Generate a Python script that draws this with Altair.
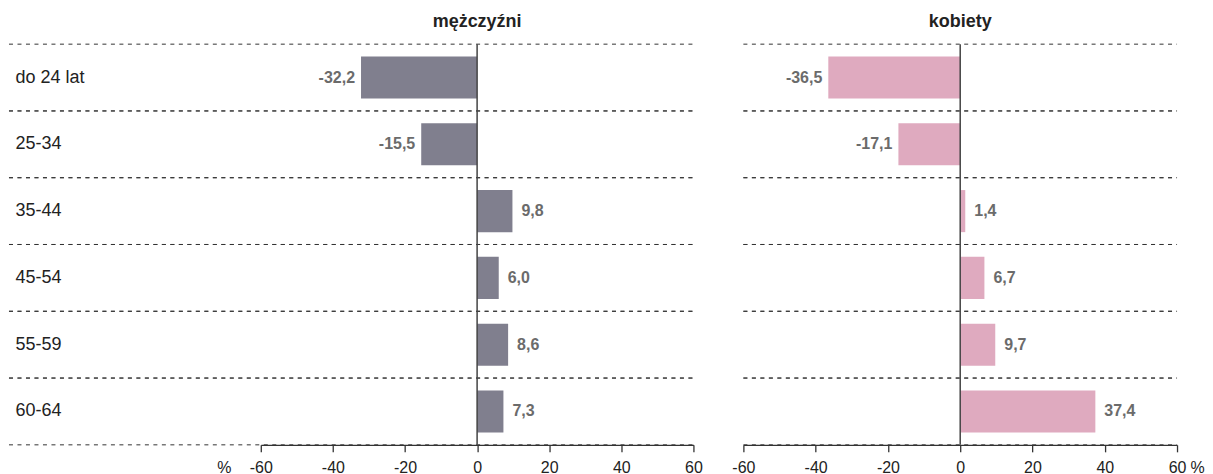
import altair as alt
import pandas as pd

groups = ["do 24 lat", "25-34", "35-44", "45-54", "55-59", "60-64"]
men = [-32.2, -15.5, 9.8, 6.0, 8.6, 7.3]
women = [-36.5, -17.1, 1.4, 6.7, 9.7, 37.4]
x_ticks = [-60, -40, -20, 0, 20, 40, 60]

MEN_COLOR = "#807f8e"
WOMEN_COLOR = "#dfaabf"
LABEL_COLOR = "#6b6b6b"
TEXT_COLOR = "#222222"
LINE_COLOR = "#333333"
FONT = "Liberation Sans"
NARROW = "Liberation Sans Narrow, Arial Narrow, Liberation Sans"

H = 401


def panel(values, color, title, left, width):
    df = pd.DataFrame({
        "grupa": groups,
        "v": values,
        "lab": [f"{v:.1f}".replace(".", ",") for v in values],
    })
    base = alt.Chart(df)
    xscale = alt.Scale(domain=[-60, 60], nice=False, zero=False)
    yscale = alt.Scale(domain=groups, paddingInner=0, paddingOuter=0)
    if left:
        yaxis = alt.Axis(title=None, ticks=False, domain=False, grid=False,
                         labelAlign="left", labelPadding=246, labelFontSize=18,
                         labelColor=TEXT_COLOR, labelFont=FONT, labelBaseline="middle")
    else:
        yaxis = None
    xaxis = alt.Axis(values=x_ticks, title="%", labelExpr="'' + datum.value",
                     labelFlush=False, labelOverlap=False,
                     labelFontSize=16, labelColor=TEXT_COLOR, labelFont=FONT,
                     tickSize=7, tickColor=LINE_COLOR, tickWidth=1.3,
                     domainColor=LINE_COLOR, domainWidth=1.3, labelPadding=8,
                     grid=False, titleFontSize=16, titleFontWeight="normal",
                     titleColor=TEXT_COLOR, titleFont=FONT,
                     titleX=-37 if left else width + 20, titleY=28,
                     titleAlign="center", titleBaseline="alphabetic", titleAngle=0)
    X = alt.X("v:Q", scale=xscale, axis=xaxis)
    Y = alt.Y("grupa:N", scale=yscale, axis=yaxis, sort=groups)

    gx = alt.value(-252) if left else alt.value(0)
    grid_top = base.mark_rule(color=LINE_COLOR, strokeDash=[4, 4.5], strokeWidth=1).encode(
        y=alt.Y("grupa:N", scale=yscale, axis=yaxis, sort=groups, bandPosition=0),
        x=gx, x2=alt.value(width))
    grid_bot = base.mark_rule(color=LINE_COLOR, strokeDash=[4, 4.5], strokeWidth=1).encode(
        y=alt.Y("grupa:N", scale=yscale, axis=yaxis, sort=groups, bandPosition=1),
        x=gx, x2=alt.value(width))
    bars = base.mark_bar(color=color, height=alt.RelativeBandSize(0.63)).encode(x=X, y=Y)
    zero = alt.Chart(pd.DataFrame({"z": [0]})).mark_rule(color="#444444", strokeWidth=1.5).encode(
        x=alt.X("z:Q", scale=xscale, axis=xaxis), y=alt.value(0), y2=alt.value(H))
    tneg = base.transform_filter("datum.v < 0").mark_text(
        align="right", dx=-6, baseline="middle", font=NARROW, fontWeight="bold",
        fontSize=16, color=LABEL_COLOR).encode(x=X, y=Y, text="lab:N")
    tpos = base.transform_filter("datum.v >= 0").mark_text(
        align="left", dx=9, baseline="middle", font=NARROW, fontWeight="bold",
        fontSize=16, color=LABEL_COLOR).encode(x=X, y=Y, text="lab:N")
    return alt.layer(grid_top, grid_bot, bars, zero, tneg, tpos).properties(
        width=width, height=H,
        title=alt.TitleParams(title, fontSize=18, font=FONT, fontWeight="bold",
                              color=TEXT_COLOR, anchor="middle", frame="group",
                              offset=-2, baseline="alphabetic"))


left = panel(men, MEN_COLOR, "mężczyźni", True, 433)
right = panel(women, WOMEN_COLOR, "kobiety", False, 434)

chart = alt.hconcat(left, right, spacing=50, bounds="flush").properties(
    padding={"left": 0, "top": 5, "right": 0, "bottom": 0}
).configure_view(stroke=None)

chart.save("out.html", embed_options={"renderer": "svg", "actions": False})
